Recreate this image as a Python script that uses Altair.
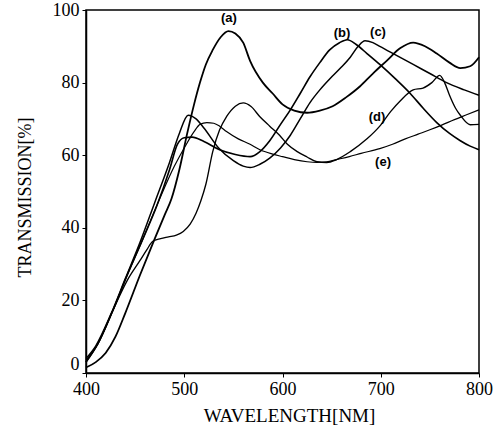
import altair as alt
import pandas as pd

# ---- data ----
a_nm = [400, 410, 420, 430, 440, 455, 470, 480, 487, 495, 503, 510, 516, 522, 529, 537, 545, 552, 560, 567, 580, 590, 600, 612, 625, 638, 651, 665, 679, 692, 706, 720, 733, 745, 757, 770, 781, 791, 800]
a_val = [1.5, 3, 5.5, 10, 16.5, 27, 37, 43.5, 48, 56, 66, 74, 80, 85, 89, 92.5, 94.2, 93.5, 91, 86, 80, 77, 74, 72.3, 71.7, 72.3, 73.5, 76, 79, 82.5, 86, 89.5, 91, 90, 88, 85.5, 84, 84.5, 87]

b_nm = [400, 412, 427, 442, 458, 472, 485, 493, 500, 508, 520, 536, 552, 567, 577, 587, 598, 608, 618, 628, 638, 648, 658, 666, 675, 686, 699, 715, 730, 743, 757, 770, 781, 791, 800]
b_val = [3, 8, 17, 27, 37, 46, 56, 63, 64.8, 65, 63.8, 61.5, 60.2, 59.6, 61, 64, 68.5, 72.5, 77, 81.6, 85.5, 89, 91, 91.8, 90.5, 88, 85, 81, 77, 73, 69, 66, 64, 62.5, 61.5]

c_nm = [400, 410, 425, 440, 455, 470, 485, 495, 504, 512, 520, 535, 550, 560, 567, 577, 587, 598, 608, 618, 628, 638, 648, 659, 669, 677, 684, 692, 699, 716, 733, 750, 767, 785, 800]
c_val = [4, 7.5, 16, 26, 36, 47, 58, 66, 71, 70, 67.5, 62, 58.5, 57, 56.6, 57.5, 59.2, 62, 65.5, 70, 74.5, 78, 81, 84, 87, 90, 91.5, 91, 90, 87.5, 85, 82.5, 80, 78, 76.5]

d_nm = [400, 412, 427, 442, 455, 462, 468, 476, 484, 492, 499, 506, 512, 517, 522, 529, 536, 543, 552, 560, 568, 577, 587, 597, 605, 615, 625, 635, 645, 655, 669, 686, 699, 710, 720, 733, 743, 752, 760, 765, 770, 776, 781, 791, 800]
d_val = [3, 8, 17, 25.5, 31, 34, 36.3, 37, 37.5, 38, 39, 41, 44, 47.5, 52, 61, 67, 70.6, 73.5, 74.4, 73.4, 70.6, 68, 65.5, 63, 61, 59.5, 58.2, 58, 58.8, 61, 64.5, 68, 72, 75, 78, 78.5, 80, 82, 80, 76.5, 73, 71, 68.4, 68.5]

e_nm = [400, 412, 427, 442, 458, 475, 490, 500, 510, 516, 523, 530, 536, 543, 555, 567, 577, 590, 600, 612, 625, 635, 645, 655, 668, 680, 699, 712, 725, 738, 750, 762, 775, 788, 800]
e_val = [3.5, 8, 17, 27, 37, 48, 57, 62, 66.5, 68.5, 69, 68.8, 68, 66.5, 64.5, 63, 61.5, 60.3, 59.6, 58.8, 58.2, 58, 58.2, 58.8, 59.6, 60.5, 61.8, 63, 64.5, 65.8, 67, 68.3, 69.8, 71.2, 72.5]

curve_names = ["a", "b", "c", "d", "e"]
curve_widths = [1.8, 1.2, 1.2, 1.2, 1.2]

label_text = ["(a)", "(b)", "(c)", "(d)", "(e)"]
label_nm = [545.5, 660.6, 697.2, 696.2, 702.3]
label_val = [97.8, 93.7, 94.0, 70.6, 58.0]

x_ticks = [400, 500, 600, 700, 800]
y_ticks = [0, 20, 40, 60, 80, 100]

# ---- build tables ----
rows = []
for name, xs, ys in zip(curve_names, [a_nm, b_nm, c_nm, d_nm, e_nm], [a_val, b_val, c_val, d_val, e_val]):
    for xv, yv in zip(xs, ys):
        rows.append({"curve": name, "nm": xv, "T": yv})
df = pd.DataFrame(rows)
labels = pd.DataFrame({"text": label_text, "nm": label_nm, "T": label_val})

serif = "Liberation Serif"

x_enc = alt.X(
    "nm:Q",
    scale=alt.Scale(domain=[400, 800], nice=False, zero=False),
    axis=alt.Axis(
        values=x_ticks, grid=False, tickSize=4, labelPadding=3, labelFlush=False,
        labelFont=serif, labelFontSize=18, labelColor="black",
        domainColor="black", tickColor="black", domainWidth=1.5,
        title="WAVELENGTH[NM]", titleFont=serif, titleFontSize=19,
        titleFontWeight="normal", titleColor="black",
        titleBaseline="top", titleX=203, titleY=33,
    ),
)
y_enc = alt.Y(
    "T:Q",
    scale=alt.Scale(domain=[0, 100], nice=False),
    axis=alt.Axis(
        values=y_ticks, grid=False, tickSize=4, labelPadding=3, labelFlush=False,
        labelOffset=alt.condition("datum.value == 0", alt.value(-9), alt.value(0)),
        labelFont=serif, labelFontSize=18, labelColor="black",
        domainColor="black", tickColor="black", domainWidth=1.5,
        title="TRANSMISSION[%]", titleFont=serif, titleFontSize=18,
        titleFontWeight="normal", titleColor="black",
        titleBaseline="middle", titleAlign="center", titleAngle=-90,
        titleX=-61, titleY=187,
    ),
)

lines = alt.Chart(df).mark_line(interpolate="monotone", color="black").encode(
    x=x_enc,
    y=y_enc,
    detail="curve:N",
    strokeWidth=alt.StrokeWidth(
        "curve:N",
        scale=alt.Scale(domain=curve_names, range=curve_widths),
        legend=None,
    ),
)

text = alt.Chart(labels).mark_text(
    font="Liberation Sans", fontWeight="bold", fontSize=13, color="black",
    align="center", baseline="middle",
).encode(x="nm:Q", y="T:Q", text="text:N")

chart = (
    alt.layer(lines, text)
    .properties(
        width=393, height=363,
        autosize=alt.AutoSizeParams(type="none"),
        padding={"left": 86, "top": 10, "right": 21, "bottom": 60},
        background="white",
    )
    .configure_view(stroke="black", strokeWidth=1.5)
)

chart.save("out.html", embed_options={"renderer": "svg", "actions": False})
